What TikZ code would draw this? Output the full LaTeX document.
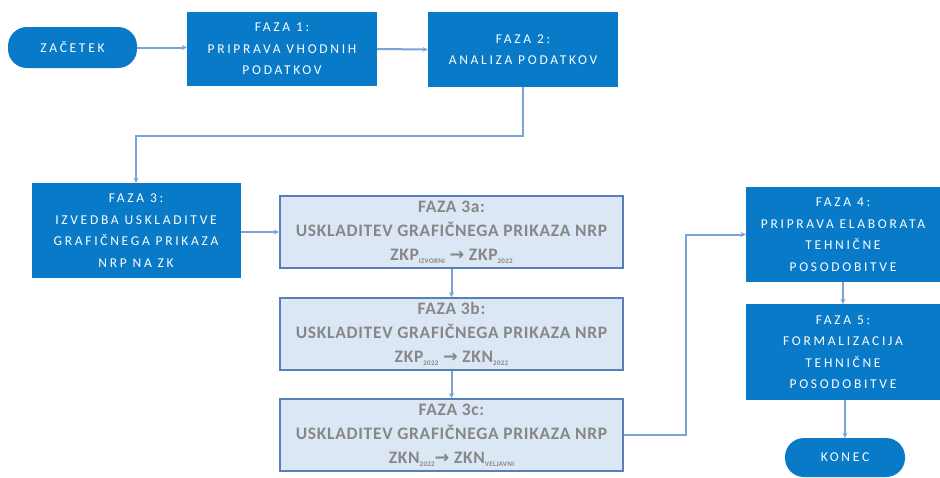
\documentclass[tikz,border=0pt]{standalone}
\usepackage{fontspec}
\setmainfont{Carlito}
\newfontfamily\darkfont[LetterSpace=20]{Carlito}
\newfontfamily\lightfont[LetterSpace=4]{Carlito}
\newfontfamily\symfont{DejaVu Sans}
\usetikzlibrary{arrows.meta}
\definecolor{darkblue}{RGB}{8,122,200}
\definecolor{lightfill}{RGB}{219,231,245}
\definecolor{lightborder}{RGB}{88,128,182}
\definecolor{conncol}{RGB}{122,163,214}
\definecolor{greytext}{RGB}{135,135,135}
\newcommand{\lowsub}[1]{\raisebox{-3pt}{\fontsize{7}{7}\selectfont #1}}
\begin{document}
\begin{tikzpicture}[x=1pt,y=-1pt,
  darkbox/.style={rectangle,fill=darkblue,draw=none,text=white,inner sep=0pt,align=center,
    font=\darkfont\fontsize{13.5}{21.5}\selectfont},
  pillbox/.style={darkbox,rounded corners=19pt},
  lightbox/.style={rectangle,fill=lightfill,draw=lightborder,line width=2pt,text=greytext,inner sep=0pt,align=center,
    font=\lightfont\bfseries\fontsize{17.5}{24}\selectfont,minimum width=343pt,minimum height=72pt},
  conn/.style={draw=conncol,line width=2pt,-{Stealth[length=5pt,width=5pt]}}]
\useasboundingbox (0,0) rectangle (940,477);
\node[pillbox,minimum width=129pt,minimum height=41pt] (start) at (72.5,47.5) {ZAČETEK};
\node[darkbox,minimum width=190pt,minimum height=74pt] (f1) at (282,49) {FAZA 1:\\PRIPRAVA VHODNIH\\PODATKOV};
\node[darkbox,minimum width=190pt,minimum height=75pt] (f2) at (523,49.5) {FAZA 2:\\ANALIZA PODATKOV};
\node[darkbox,minimum width=209pt,minimum height=95pt] (f3) at (136,230.5) {FAZA 3:\\IZVEDBA USKLADITVE\\GRAFIČNEGA PRIKAZA\\NRP NA ZK};
\node[lightbox] (f3a) at (451.5,232) {FAZA 3a:\\USKLADITEV GRAFIČNEGA PRIKAZA NRP\\ZKP\lowsub{IZVORNI} {\symfont\bfseries →} ZKP\lowsub{2022}};
\node[lightbox] (f3b) at (451.5,334) {FAZA 3b:\\USKLADITEV GRAFIČNEGA PRIKAZA NRP\\ZKP\lowsub{2022} {\symfont\bfseries →} ZKN\lowsub{2022}};
\node[lightbox] (f3c) at (451.5,435) {FAZA 3c:\\USKLADITEV GRAFIČNEGA PRIKAZA NRP\\ZKN\lowsub{2022}{\symfont\bfseries →} ZKN\lowsub{VELJAVNI}};
\node[darkbox,minimum width=194pt,minimum height=95pt] (f4) at (843,234.5) {FAZA 4:\\PRIPRAVA ELABORATA\\TEHNIČNE\\POSODOBITVE};
\node[darkbox,minimum width=194pt,minimum height=96pt] (f5) at (843,352) {FAZA 5:\\FORMALIZACIJA\\TEHNIČNE\\POSODOBITVE};
\node[pillbox,minimum width=120pt,minimum height=39pt] (konec) at (845,457.5) {KONEC};
\draw[conn] (start.east) -- (start.east -| f1.west);
\draw[conn] (f1.east) -- (f2.west);
\draw[conn] (f2.south) -- ++(0,49) -| (f3.north);
\draw[conn] (f3a.west -| f3.east) -- (f3a.west);
\draw[conn] (f3a.south) -- (f3b.north);
\draw[conn] (f3b.south) -- (f3c.north);
\draw[conn] (f3c.east) -- ++(62,0) |- (f4.west);
\draw[conn] (f4.south) -- (f5.north);
\draw[conn] (f5.south -| konec.north) -- (konec.north);
\end{tikzpicture}
\end{document}
